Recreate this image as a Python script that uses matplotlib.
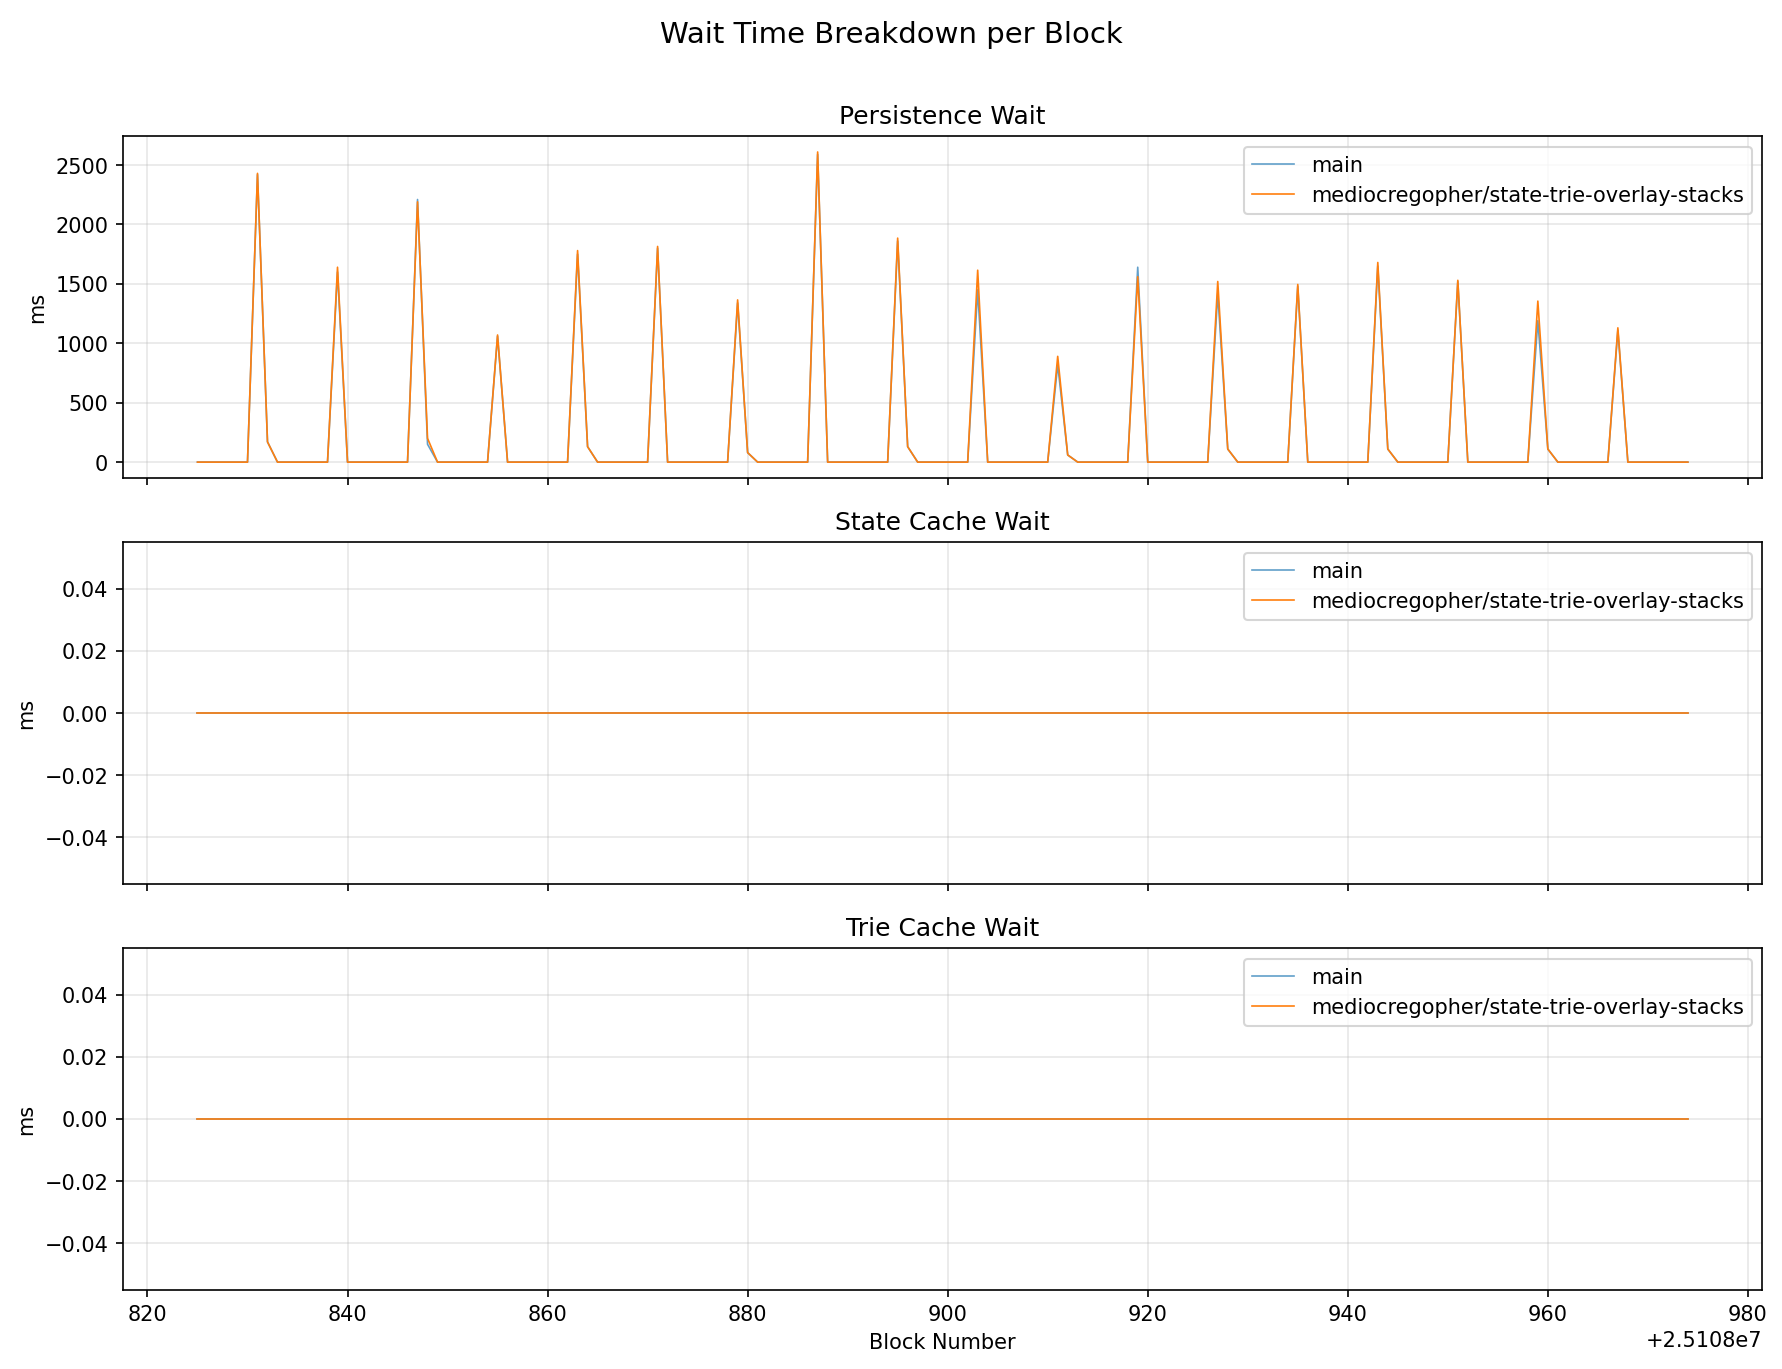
import matplotlib
matplotlib.use("Agg")
import matplotlib.pyplot as plt
import numpy as np

# Block numbers and spike blocks
blocks = np.arange(25108825, 25108975)
spike_blocks = [831, 839, 847, 855, 863, 871, 879, 887, 895, 903, 911, 919, 927, 935, 943, 951, 959, 967]
main_peaks = [2420, 1600, 2210, 1060, 1750, 1800, 1340, 2590, 1860, 1450, 820, 1640, 1420, 1480, 1650, 1520, 1190, 1110]
branch_peaks = [2430, 1640, 2190, 1070, 1780, 1815, 1365, 2610, 1885, 1615, 890, 1560, 1520, 1495, 1680, 1530, 1355, 1130]
tail_blocks = [832, 848, 864, 880, 896, 912, 928, 944, 960]
main_tail = [170, 150, 130, 80, 130, 60, 110, 110, 110]
branch_tail = [170, 200, 130, 80, 130, 60, 110, 110, 110]


def build_series(peaks, tails):
    values = np.zeros(len(blocks))
    for b, v in zip(spike_blocks, peaks):
        values[blocks == 25108000 + b] = v
    for b, v in zip(tail_blocks, tails):
        values[blocks == 25108000 + b] = v
    return values


persistence_main = build_series(main_peaks, main_tail)
persistence_branch = build_series(branch_peaks, branch_tail)
zeros = np.zeros(len(blocks))

panels = [
    ("Persistence Wait", persistence_main, persistence_branch),
    ("State Cache Wait", zeros, zeros),
    ("Trie Cache Wait", zeros, zeros),
]

fig, axes = plt.subplots(3, 1, figsize=(11.88, 9.13), dpi=150, sharex=True)
fig.subplots_adjust(left=0.069, right=0.989, top=0.90, bottom=0.058, hspace=0.19)
fig.suptitle("Wait Time Breakdown per Block", fontsize=14, y=0.985)

for ax, (title, main_vals, branch_vals) in zip(axes, panels):
    ax.plot(blocks, main_vals, color="#1f77b4", alpha=0.7, linewidth=0.8, label="main")
    ax.plot(blocks, branch_vals, color="#ff7f0e", linewidth=0.8,
            label="mediocregopher/state-trie-overlay-stacks")
    ax.set_title(title)
    ax.set_ylabel("ms")
    ax.grid(True, alpha=0.3)
    ax.legend(loc="upper right")

axes[-1].set_xlabel("Block Number")
fig.savefig("out.png")
